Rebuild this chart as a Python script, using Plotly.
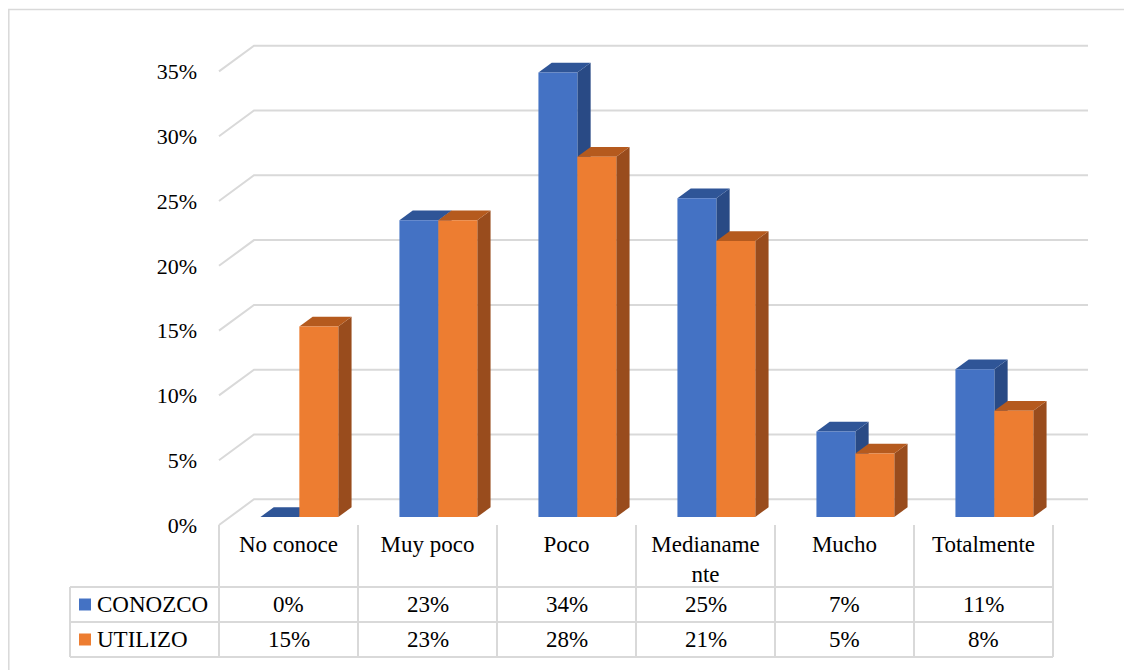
import plotly.graph_objects as go

# ---------------- data ----------------
categories = ["No conoce", "Muy poco", "Poco", "Medianamente", "Mucho", "Totalmente"]
category_labels = ["No conoce", "Muy poco", "Poco", "Medianame<br>nte", "Mucho", "Totalmente"]
series_names = ["CONOZCO", "UTILIZO"]
conozco = [0.0, 22.9, 34.3, 24.6, 6.6, 11.4]
utilizo = [14.7, 22.9, 27.8, 21.3, 4.9, 8.2]
y_ticks = [0, 5, 10, 15, 20, 25, 30, 35]
y_tick_labels = [f"{t}%" for t in y_ticks]

# ---------------- geometry / style ----------------
OFF = 8                        # page body margin (px)
Wf, Hf = 1132 - OFF, 670 - OFF  # figure size so it fits the window
X0, COL = 219.0, 139.0        # front-left floor corner (screen px), column width (px)
Y0, PPU = 525.0, 12.96        # front floor y (screen px), px per percent
DX = 35.0 / COL               # depth offset in x-units
DY = 25.7 / PPU               # depth offset in y-units
A, B = 0.31, 0.69             # bar depth (front/back fraction)
BAR_W = 0.28
FONT = "Liberation Serif, Times New Roman, serif"
GRID = "#D9D9D9"
front_col = ["#4472C4", "#ED7D31"]
top_col = ["#2F5597", "#B55A1E"]
side_col = ["#294A85", "#994C1D"]

x_range = [(OFF - X0) / COL, (OFF + Wf - X0) / COL]
y_range = [(Y0 - (OFF + Hf)) / PPU, (Y0 - OFF) / PPU]
n = len(categories)


def pxp(x):
    return (x - OFF) / Wf


def pyp(y):
    return 1 - (y - OFF) / Hf


series = [conozco, utilizo]
offsets = [-BAR_W, 0.0]

fig = go.Figure()
shapes = []

# gridlines (3D wall + floor)
for t in y_ticks:
    shapes.append(dict(
        type="path", xref="x", yref="y", layer="below",
        path=f"M 0 {t} L {DX} {t + DY} L {n + DX} {t + DY}",
        line=dict(color=GRID, width=2)))

# bar side and top faces
for s, vals in enumerate(series):
    for k, v in enumerate(vals):
        xl = k + 0.5 + offsets[s]
        xr = xl + BAR_W
        side = (f"M {xr + A*DX} {A*DY} L {xr + B*DX} {B*DY} "
                f"L {xr + B*DX} {v + B*DY} L {xr + A*DX} {v + A*DY} Z")
        top = (f"M {xl + A*DX} {v + A*DY} L {xr + A*DX} {v + A*DY} "
               f"L {xr + B*DX} {v + B*DY} L {xl + B*DX} {v + B*DY} Z")
        shapes.append(dict(type="path", xref="x", yref="y", layer="below", path=side,
                           fillcolor=side_col[s], line=dict(width=0)))
        shapes.append(dict(type="path", xref="x", yref="y", layer="below", path=top,
                           fillcolor=top_col[s], line=dict(width=0)))

# bar front faces
for s, vals in enumerate(series):
    fig.add_trace(go.Bar(
        x=[k + 0.5 + A * DX for k in range(n)], y=vals, base=A * DY,
        width=BAR_W, offset=offsets[s], name=series_names[s],
        marker=dict(color=front_col[s], line=dict(width=0)),
        showlegend=False, hoverinfo="skip"))

# data table lines
tbl_left, tbl_right = 70, X0 + n * COL
row_y = [587, 622, 657]
for yy in row_y:
    shapes.append(dict(type="line", xref="paper", yref="paper",
                       x0=pxp(tbl_left), x1=pxp(tbl_right), y0=pyp(yy), y1=pyp(yy),
                       line=dict(color=GRID, width=2)))
shapes.append(dict(type="line", xref="paper", yref="paper",
                   x0=pxp(tbl_left), x1=pxp(tbl_left), y0=pyp(row_y[0]), y1=pyp(row_y[-1]),
                   line=dict(color=GRID, width=2)))
for k in range(n + 1):
    xx = X0 + k * COL
    shapes.append(dict(type="line", xref="paper", yref="paper",
                       x0=pxp(xx), x1=pxp(xx), y0=pyp(Y0), y1=pyp(row_y[-1]),
                       line=dict(color=GRID, width=2)))

# outer chart border (left/top visible)
shapes.append(dict(type="path", xref="paper", yref="paper",
                   path=f"M {pxp(8.8)} {pyp(700)} L {pxp(8.8)} {pyp(9.5)} L {pxp(1140)} {pyp(9.5)}",
                   line=dict(color=GRID, width=1.5)))

annotations = []
row_centers = [(row_y[0] + row_y[1]) / 2, (row_y[1] + row_y[2]) / 2]
for s, vals in enumerate(series):
    yc = row_centers[s]
    # legend key
    shapes.append(dict(type="rect", xref="paper", yref="paper",
                       x0=pxp(79), x1=pxp(91), y0=pyp(yc - 6), y1=pyp(yc + 6),
                       fillcolor=front_col[s], line=dict(width=0)))
    annotations.append(dict(xref="paper", yref="paper", x=pxp(95), y=pyp(yc),
                            xanchor="left", yanchor="middle", showarrow=False,
                            text=series_names[s], font=dict(size=23, color="#000000")))
    for k, v in enumerate(vals):
        annotations.append(dict(xref="x", yref="paper", x=k + 0.5, y=pyp(yc),
                                xanchor="center", yanchor="middle", showarrow=False,
                                text=f"{v:.0f}%", font=dict(size=23, color="#000000")))

fig.update_layout(
    width=Wf, height=Hf,
    margin=dict(l=0, r=0, t=0, b=0),
    paper_bgcolor="white", plot_bgcolor="white",
    font=dict(family=FONT, color="#000000"),
    barmode="overlay",
    shapes=shapes, annotations=annotations,
    xaxis=dict(range=x_range, tickvals=[k + 0.5 for k in range(n)], ticktext=category_labels,
               anchor="free", position=pyp(Y0 + 3), showgrid=False, zeroline=False,
               showline=False, ticks="", tickfont=dict(size=23, color="#000000"),
               fixedrange=True),
    yaxis=dict(range=y_range, tickvals=y_ticks, ticktext=y_tick_labels,
               anchor="free", position=pxp(197), showgrid=False, zeroline=False,
               showline=False, ticks="", tickfont=dict(size=22, color="#000000"),
               fixedrange=True),
)

fig.write_html("out.html")
